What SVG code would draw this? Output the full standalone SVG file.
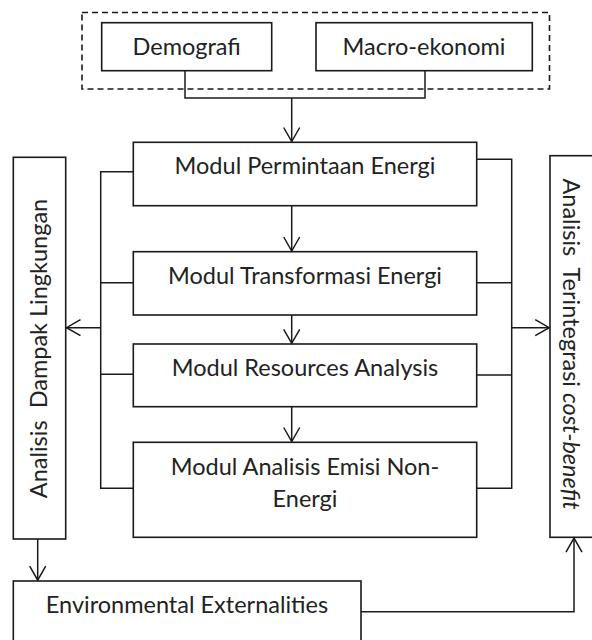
<svg xmlns="http://www.w3.org/2000/svg" width="592" height="640" viewBox="0 0 592 640">
<style>
.box{fill:#fff;stroke:#1a1a1a;stroke-width:1.6}
.dash{fill:none;stroke:#1a1a1a;stroke-width:1.6;stroke-dasharray:6 4}
.ln{fill:none;stroke:#1a1a1a;stroke-width:1.5}
.t{font-family:Lato,"Open Sans",sans-serif;font-size:23.5px;fill:#222;text-anchor:middle}
</style>
<defs>
<marker id="ah" markerWidth="20" markerHeight="20" refX="0" refY="0" viewBox="-16 -10 20 20" markerUnits="userSpaceOnUse" orient="auto">
<path d="M-14,-8 L0,0 L-14,8" fill="none" stroke="#1a1a1a" stroke-width="1.5"/>
</marker>
</defs>
<rect class="dash" x="82" y="12.5" width="467.5" height="76.5"/>
<g id="demografi"><rect class="box" x="101.7" y="22.7" width="170" height="48"/><text class="t" x="186.7" y="55">Demografi</text></g>
<g id="makro"><rect class="box" x="316" y="22.7" width="216.3" height="48"/><text class="t" x="424" y="55">Macro-ekonomi</text></g>
<g id="permintaan"><rect class="box" x="133.3" y="142.3" width="343.4" height="63.4"/><text class="t" x="305" y="173.5">Modul Permintaan Energi</text></g>
<g id="transformasi"><rect class="box" x="133.3" y="251.7" width="343.4" height="63.3"/><text class="t" x="305" y="283.5">Modul Transformasi Energi</text></g>
<g id="resources"><rect class="box" x="133.3" y="344" width="343.4" height="62.7"/><text class="t" x="305" y="376">Modul Resources Analysis</text></g>
<g id="emisi"><rect class="box" x="133.3" y="442.3" width="343.4" height="95"/><text class="t" x="305" y="475">Modul Analisis Emisi Non-</text><text class="t" x="305" y="506.5">Energi</text></g>
<g id="dampak"><rect class="box" x="13.3" y="157.3" width="52.4" height="381.7"/><text class="t" transform="translate(47,348.5) rotate(-90)" xml:space="preserve">Analisis  Dampak Lingkungan</text></g>
<g id="costbenefit"><rect class="box" x="550" y="155.7" width="60" height="381.6"/><text class="t" transform="translate(562.5,344) rotate(90)" xml:space="preserve">Analisis  Terintegrasi <tspan font-style="italic">cost-benefit</tspan></text></g>
<g id="externalities"><rect class="box" x="13.3" y="581" width="347.7" height="70"/><text class="t" x="187" y="613">Environmental Externalities</text></g>
<g id="connectors">
<path class="ln" d="M185,70.7 V98 H425 V70.7"/>
<path class="ln" d="M291.7,98 V141.5" marker-end="url(#ah)"/>
<path class="ln" d="M291.7,205.7 V251" marker-end="url(#ah)"/>
<path class="ln" d="M291.7,315 V343.3" marker-end="url(#ah)"/>
<path class="ln" d="M291.7,406.7 V441.5" marker-end="url(#ah)"/>
<path class="ln" d="M133.3,171.7 H100.7 V488.3 H133.3 M100.7,282.7 H133.3 M100.7,374.3 H133.3"/>
<path class="ln" d="M100.7,327.7 H66.5" marker-end="url(#ah)"/>
<path class="ln" d="M476.7,159.3 H511.7 V488.3 H476.7 M511.7,282.7 H476.7 M511.7,375 H476.7"/>
<path class="ln" d="M511.7,327.7 H549.2" marker-end="url(#ah)"/>
<path class="ln" d="M37.7,539 V580.2" marker-end="url(#ah)"/>
<path class="ln" d="M361,611.7 H574 V538.1" marker-end="url(#ah)"/>
</g>
</svg>
